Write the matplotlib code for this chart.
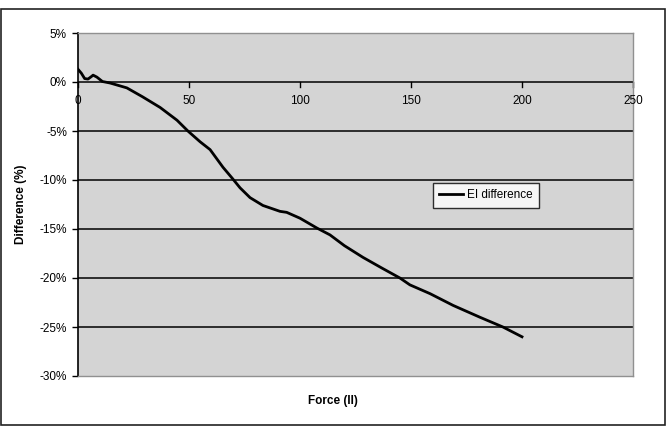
import matplotlib

matplotlib.use("Agg")
import matplotlib.pyplot as plt
from matplotlib.patches import Rectangle
from matplotlib.ticker import FuncFormatter

# EI difference vs force
force = [0, 1.5, 3, 4.5, 6, 6.8, 8.5, 11, 14.4, 22, 29, 37, 44.6, 49.5, 55, 59.5,
         65.3, 69.4, 73, 77.5, 83.3, 91, 94, 100, 107.6, 113.5, 120, 128.4, 137,
         145, 149.5, 158.6, 169, 181, 191.4, 200]
diff = [1.3, 0.9, 0.35, 0.3, 0.55, 0.7, 0.5, 0.05, -0.1, -0.6, -1.5, -2.6, -3.9,
        -5.0, -6.1, -6.9, -8.7, -9.8, -10.8, -11.8, -12.6, -13.2, -13.3, -13.9,
        -14.9, -15.6, -16.7, -17.9, -19.0, -20.0, -20.7, -21.6, -22.8, -24.0,
        -25.0, -26.0]

x_ticks = [0, 50, 100, 150, 200, 250]
y_ticks = [5, 0, -5, -10, -15, -20, -25, -30]

W, H = 671, 426
plt.rcParams["font.family"] = ["Liberation Sans", "DejaVu Sans"]

fig = plt.figure(figsize=(W / 100, H / 100), dpi=100)
fig.patch.set_facecolor("white")

# outer chart border
fig.patches.append(Rectangle((0.5 / W, 1 - 425 / H), 664 / W, 416 / H,
                             transform=fig.transFigure, fill=False,
                             edgecolor="#222222", lw=1.2))

ax = fig.add_axes([78 / W, 1 - 376 / H, (633 - 78) / W, (376 - 33) / H])
ax.set_facecolor("#d4d4d4")
ax.set_xlim(0, 250)
ax.set_ylim(-30, 5)

for y in y_ticks[1:-1]:
    ax.axhline(y, color="black", lw=1.1, zorder=1)

ax.plot(force, diff, color="black", lw=2, label="EI difference", zorder=3,
        solid_joinstyle="round")

for side in ("top", "right", "bottom"):
    ax.spines[side].set_color("#909090")
    ax.spines[side].set_linewidth(1)
ax.spines["left"].set_color("black")
ax.spines["left"].set_linewidth(1.2)

ax.set_yticks(y_ticks)
ax.yaxis.set_major_formatter(FuncFormatter(lambda v, _: f"{v:.0f}%"))
ax.tick_params(axis="y", direction="out", length=4, width=1, pad=4,
               labelsize=8.5, colors="black")

# x axis drawn at the 0% line, labels inside the plot
ax.set_xticks([])
for xt in x_ticks:
    ax.plot([xt, xt], [0, -0.5], color="black", lw=1, zorder=2, clip_on=False)
    ax.text(xt, -1.9, str(xt), ha="center", va="center", fontsize=8.5, zorder=4)

ax.set_ylabel("Difference (%)", fontsize=8.5, fontweight="bold", labelpad=9)
fig.text(333 / W, 1 - 401 / H, "Force (II)", ha="center", va="center",
         fontsize=8.5, fontweight="bold")

leg = ax.legend(loc="upper left", bbox_to_anchor=((433 - 78) / (633 - 78), (376 - 183) / (376 - 33)),
                fontsize=8.5, frameon=True, fancybox=False, handlelength=2.0,
                handletextpad=0.3, borderpad=0.55, borderaxespad=0)
leg.get_frame().set_edgecolor("black")
leg.get_frame().set_facecolor("white")
leg.get_frame().set_linewidth(1)

fig.savefig("out.png", dpi=100, facecolor=fig.get_facecolor())
